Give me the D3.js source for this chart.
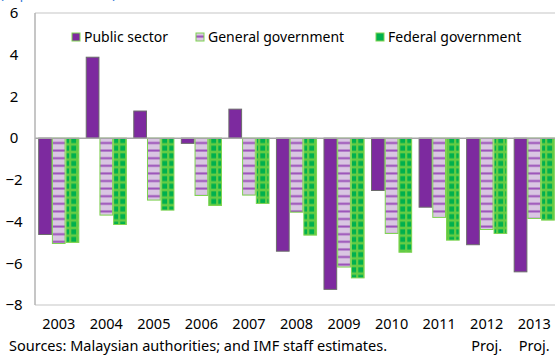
<!DOCTYPE html>
<html><head><meta charset="utf-8">
<script src="https://cdn.jsdelivr.net/npm/d3@7"></script>
<style>body{margin:0;background:#fff}svg{display:block}text{font-family:"Noto Sans",sans-serif}</style>
</head><body><svg id="c" width="555" height="356"></svg>
<script>
const years = ["2003","2004","2005","2006","2007","2008","2009","2010","2011","2012","2013"];
const subLabels = ["","","","","","","","","","Proj.","Proj."];
const seriesNames = ["Public sector","General government","Federal government"];
const publicSector = [-4.62, 3.88, 1.3, -0.25, 1.39, -5.42, -7.25, -2.51, -3.31, -5.11, -6.41];
const generalGov = [-5.05, -3.69, -2.97, -2.75, -2.73, -3.55, -6.18, -4.57, -3.8, -4.38, -3.85];
const federalGov = [-5.0, -4.14, -3.45, -3.23, -3.13, -4.65, -6.7, -5.47, -4.89, -4.57, -3.93];
const yTicks = [6,4,2,0,-2,-4,-6,-8];

const svg = d3.select("#c");
const defs = svg.append("defs");
const p1 = defs.append("pattern").attr("id","stripe").attr("patternUnits","userSpaceOnUse").attr("width",8).attr("height",7.6);
p1.append("rect").attr("width",8).attr("height",7.6).attr("fill","#d9c6e2");
p1.append("rect").attr("y",5.2).attr("width",8).attr("height",2).attr("fill","#9a4fb8");
const p2 = defs.append("pattern").attr("id","grid").attr("patternUnits","userSpaceOnUse").attr("width",7).attr("height",7.6);
p2.append("rect").attr("width",7).attr("height",7.6).attr("fill","#66cc44");
p2.append("rect").attr("x",1.3).attr("y",1.3).attr("width",4.8).attr("height",5).attr("fill","#00b04e");

const x = d3.scaleBand().domain(years).range([35,558]).paddingInner(0.135).paddingOuter(0.067);
const xs = d3.scaleBand().domain([0,1,2]).range([0,x.bandwidth()]);
const y = d3.scaleLinear().domain([-8,6]).range([305,13]);

svg.append("line").attr("x1",35).attr("x2",555).attr("y1",y(6)).attr("y2",y(6)).attr("stroke","#d9d9d9").attr("stroke-width",1.5);
svg.append("line").attr("x1",35).attr("x2",555).attr("y1",y(-8)).attr("y2",y(-8)).attr("stroke","#d9d9d9").attr("stroke-width",1.5);

const series = [publicSector, generalGov, federalGov];
const fills = ["#7d2a9f","url(#stripe)","url(#grid)"];
const strokes = ["#6b6b6b","#7ed350","#7ed350"];
series.forEach((vals,si)=>{
  svg.append("g").selectAll("rect").data(vals).join("rect")
    .attr("x",(d,i)=>x(years[i])+xs(si)+0.5)
    .attr("width",xs.bandwidth()-1)
    .attr("y",d=>y(Math.max(0,d)))
    .attr("height",d=>Math.abs(y(d)-y(0)))
    .attr("fill",fills[si]).attr("stroke",strokes[si]).attr("stroke-width",1);
});

svg.append("line").attr("x1",35).attr("x2",555).attr("y1",y(0)).attr("y2",y(0)).attr("stroke","#a6a6a6").attr("stroke-width",1.5);
svg.append("line").attr("x1",35).attr("x2",35).attr("y1",y(6)).attr("y2",y(-8)).attr("stroke","#b3b3b3").attr("stroke-width",1.5);

const yAxis = d3.axisLeft(y).tickValues(yTicks).tickSize(0).tickPadding(0).tickFormat(d3.format("d"));
const ga = svg.append("g").attr("transform","translate(14,0)").call(yAxis);
ga.select(".domain").remove();
ga.selectAll("text").attr("font-size",15).attr("fill","#000").attr("text-anchor","middle").attr("font-family","Noto Sans");

const xAxis = d3.axisBottom(x).tickSize(0).tickPadding(0);
const gx = svg.append("g").attr("transform","translate(0,319)").call(xAxis);
gx.select(".domain").remove();
gx.selectAll("text").attr("font-size",14.5).attr("fill","#000").attr("font-family","Noto Sans");
svg.append("g").selectAll("text").data(years).join("text")
  .attr("x",d=>x(d)+x.bandwidth()/2).attr("y",351).attr("text-anchor","middle")
  .attr("font-size",14.5).text((d,i)=>subLabels[i]);

svg.append("text").attr("x",9).attr("y",351).attr("font-size",14.5).text("Sources: Malaysian authorities; and IMF staff estimates.");
svg.append("text").attr("x",0).attr("y",-1).attr("font-size",13).attr("fill","#2e75d6").text("(In percent of GDP)");

const legX = [72,196,376];
const leg = svg.append("g");
seriesNames.forEach((n,i)=>{
  leg.append("rect").attr("x",legX[i]).attr("y",33).attr("width",8).attr("height",8)
    .attr("fill",i===0?"#7d2a9f":(i===1?"url(#stripe)":"#00b04e")).attr("stroke","#7ed350").attr("stroke-width",1);
  leg.append("text").attr("x",legX[i]+12).attr("y",42).attr("font-size",14).text(n);
});
</script></body></html>
